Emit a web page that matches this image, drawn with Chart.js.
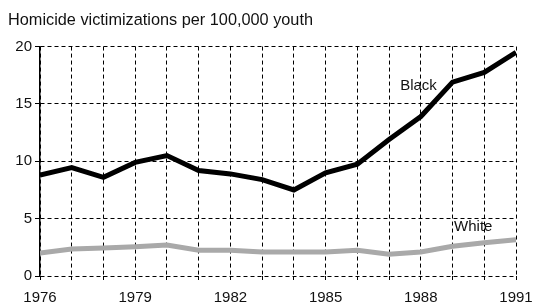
<!DOCTYPE html>
<html>
<head>
<meta charset="utf-8">
<script src="https://cdn.jsdelivr.net/npm/chart.js@4/dist/chart.umd.min.js"></script>
<style>
html,body{margin:0;padding:0;background:#fff;}
#wrap{width:535px;height:307px;}
</style>
</head>
<body>
<div id="wrap"><canvas id="c" width="535" height="307"></canvas></div>
<script>
const years = [1976,1977,1978,1979,1980,1981,1982,1983,1984,1985,1986,1987,1988,1989,1990,1991];
const blackRates = [8.8,9.45,8.6,9.9,10.5,9.2,8.9,8.4,7.5,9.0,9.75,11.9,13.9,16.9,17.75,19.5];
const whiteRates = [2.0,2.35,2.45,2.55,2.7,2.25,2.25,2.1,2.1,2.1,2.25,1.9,2.1,2.6,2.9,3.15];
const yTicks = [0,5,10,15,20];
const xLabelYears = [1976,1979,1982,1985,1988,1991];
const titleText = "Homicide victimizations per 100,000 youth";
const seriesLabels = [
  {text: "Black", x: 1987.35, y: 16.6},
  {text: "White", x: 1989.05, y: 4.3}
];

const FONT = "'Liberation Sans', Arial, sans-serif";

const labelPlugin = {
  id: 'seriesLabels',
  afterDatasetsDraw(chart) {
    const ctx = chart.ctx;
    const xs = chart.scales.x, ys = chart.scales.y;
    ctx.save();
    ctx.font = "15px " + FONT;
    ctx.fillStyle = "#111";
    ctx.textAlign = "left";
    ctx.textBaseline = "middle";
    seriesLabels.forEach(l => {
      ctx.fillText(l.text, xs.getPixelForValue(l.x), ys.getPixelForValue(l.y));
    });
    ctx.restore();
  }
};

new Chart(document.getElementById('c'), {
  type: 'line',
  data: {
    datasets: [
      {
        label: 'Black',
        data: years.map((y,i) => ({x: y, y: blackRates[i]})),
        borderColor: '#000',
        borderWidth: 5,
        pointRadius: 0,
        tension: 0,
        fill: false
      },
      {
        label: 'White',
        data: years.map((y,i) => ({x: y, y: whiteRates[i]})),
        borderColor: '#a9a9a9',
        borderWidth: 5,
        pointRadius: 0,
        tension: 0,
        fill: false
      }
    ]
  },
  options: {
    responsive: false,
    animation: false,
    devicePixelRatio: 1,
    layout: {padding: {left: 8, right: 19, top: 0, bottom: 0}},
    plugins: {
      legend: {display: false},
      tooltip: {enabled: false},
      title: {
        display: true,
        text: titleText,
        align: 'start',
        color: '#111',
        font: {family: FONT, size: 16.3, weight: 'normal'},
        padding: {top: 11, bottom: 16},
      }
    },
    scales: {
      x: {
        type: 'linear',
        min: 1976,
        max: 1991,
        afterBuildTicks(s) { s.ticks = years.map(v => ({value: v})); },
        afterFit(s) { s.height = 31; s.paddingLeft = 0; s.paddingRight = 0; },
        ticks: {
          autoSkip: false,
          maxRotation: 0,
          padding: 9,
          color: '#111',
          font: {family: FONT, size: 15},
          callback: v => xLabelYears.includes(v) ? String(v) : ''
        },
        grid: {color: '#000', lineWidth: 1, tickLength: 4, tickColor: '#000', drawTicks: true},
        border: {display: false, dash: [4,3]}
      },
      y: {
        min: 0,
        max: 20,
        afterBuildTicks(s) { s.ticks = yTicks.map(v => ({value: v})); },
        afterFit(s) { s.width = 32; s.paddingTop = 0; s.paddingBottom = 0; },
        ticks: {
          padding: 3,
          color: '#111',
          font: {family: FONT, size: 15}
        },
        grid: {color: '#000', lineWidth: 1, tickLength: 5, tickColor: '#000', drawTicks: true},
        border: {display: true, color: '#000', width: 1.5, dash: [4,3]}
      }
    }
  },
  plugins: [labelPlugin]
});
</script>
</body>
</html>
